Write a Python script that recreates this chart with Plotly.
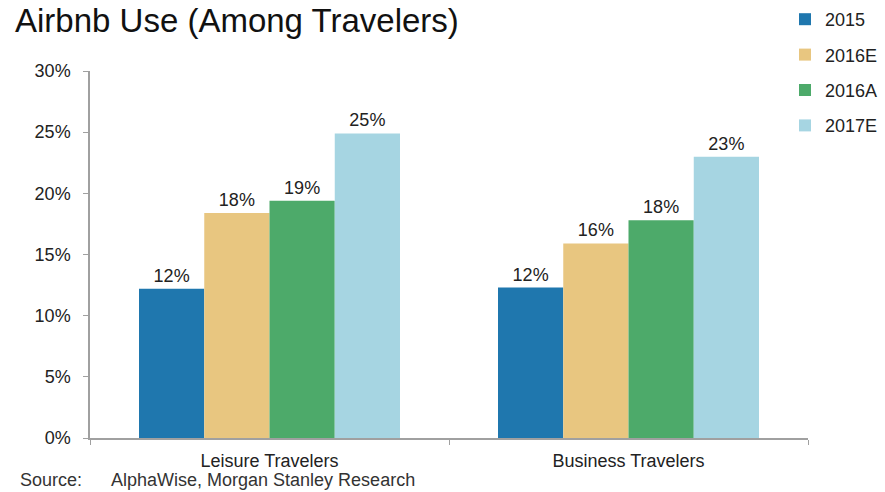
import plotly.graph_objects as go

categories = ["Leisure Travelers", "Business Travelers"]
series_names = ["2015", "2016E", "2016A", "2017E"]
values_2015 = [12.2, 12.3]
values_2016E = [18.4, 15.9]
values_2016A = [19.4, 17.8]
values_2017E = [24.9, 23.0]
series_values = [values_2015, values_2016E, values_2016A, values_2017E]
colors = ["#1F77AE", "#E8C680", "#4DAA6A", "#A6D5E2"]
y_ticks = [0, 5, 10, 15, 20, 25, 30]

FONT = "Liberation Sans, Arial, sans-serif"
W, H = 885, 492
L, R, T, B = 90, 77, 71, 54
pw, ph = W - L - R, H - T - B

def px_x(x):
    return (x - L) / pw

def px_y(y):
    return (H - B - y) / ph

fig = go.Figure()
for name, vals, col in zip(series_names, series_values, colors):
    fig.add_trace(go.Bar(
        name=name, x=categories, y=vals, marker_color=col, marker_line_width=0,
        legendgroup=name,
        text=[f"{round(v)}%" for v in vals], textposition="outside",
        textfont=dict(size=18, color="#222", family=FONT), cliponaxis=False,
    ))

fig.update_layout(
    width=W, height=H, margin=dict(l=L, r=R, t=T, b=B, autoexpand=False),
    paper_bgcolor="white", plot_bgcolor="white",
    barmode="group", bargap=0.273, bargroupgap=0,
    font=dict(family=FONT, size=18, color="#222"),
    showlegend=True,
    legend=dict(x=px_x(785), y=px_y(1), xanchor="left", yanchor="top",
                font=dict(size=18, color="#222", family=FONT),
                tracegroupgap=9, bgcolor="rgba(0,0,0,0)"),
    xaxis=dict(showline=True, linecolor="#A0A0A0", linewidth=1.5,
               ticks="outside", tickson="boundaries", ticklen=5, tickcolor="#A0A0A0",
               ticklabelstandoff=6, tickfont=dict(size=18, color="#222")),
    yaxis=dict(range=[0, 30], tickvals=y_ticks, ticktext=[f"{t}%" for t in y_ticks],
               showline=True, linecolor="#A0A0A0", linewidth=1.5, showgrid=False,
               zeroline=False, ticks="outside", ticklen=5, tickcolor="#A0A0A0",
               ticklabelstandoff=9, tickfont=dict(size=18, color="#222")),
)

fig.add_annotation(text="Airbnb Use (Among Travelers)", xref="paper", yref="paper",
                   x=px_x(13), y=px_y(0), xanchor="left", yanchor="top",
                   showarrow=False, font=dict(size=33, color="#111", family=FONT))
fig.add_annotation(text="Source:", xref="paper", yref="paper",
                   x=px_x(18), y=px_y(480), xanchor="left", yanchor="middle",
                   showarrow=False, font=dict(size=18, color="#333", family=FONT))
fig.add_annotation(text="AlphaWise, Morgan Stanley Research", xref="paper", yref="paper",
                   x=px_x(109), y=px_y(480), xanchor="left", yanchor="middle",
                   showarrow=False, font=dict(size=18, color="#333", family=FONT))

fig.write_html("out.html")
